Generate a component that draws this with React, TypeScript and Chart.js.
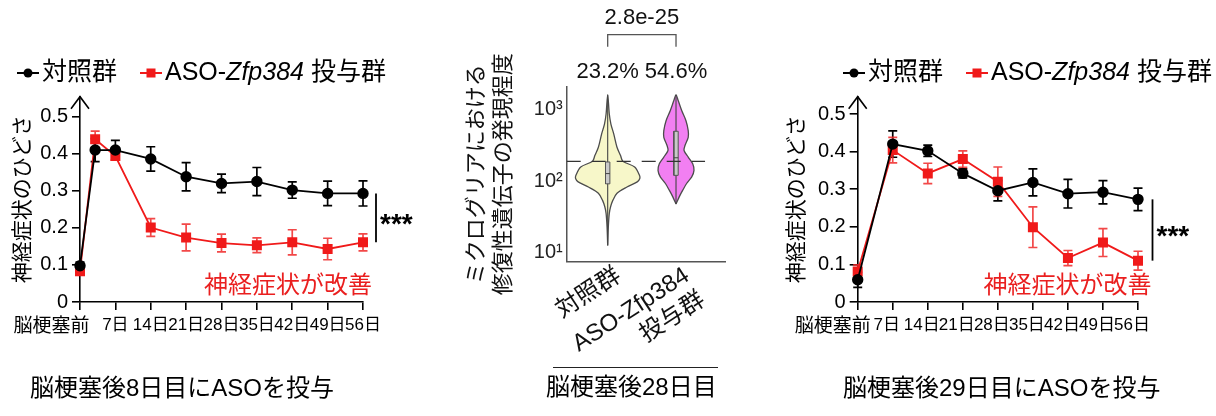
import React, { useEffect, useRef } from 'react';
import { Chart, registerables } from 'chart.js';

Chart.register(...registerables);

const FONT = "'Liberation Sans', Arial, 'Noto Sans CJK JP', sans-serif";
Chart.defaults.font.family = FONT;

// ---------- shared labels ----------
const seriesNames = ['対照群', 'ASO-Zfp384 投与群'];
const italicWord = 'Zfp384';
const ctrlColor = '#000000';
const asoColor = '#f01a1a';
const asoErrColor = 'rgba(240,40,40,0.85)';
const improveColor = '#ea1f1f';

const dayTicks = [0, 7, 14, 21, 28, 35, 42, 49, 56];
const preLabel = '脳梗塞前';
const dayUnit = '日';
const yTicksLine = [0, 0.1, 0.2, 0.3, 0.4, 0.5];
const yTitleLine = '神経症状のひどさ';
const improveText = '神経症状が改善';
const starText = '***';
const captionA = '脳梗塞後8日目にASOを投与';
const captionB = '脳梗塞後28日目';
const captionC = '脳梗塞後29日目にASOを投与';

// ---------- panel A (ASO on day 8) ----------
const daysA = [0, 3, 7, 14, 21, 28, 35, 42, 49, 56];
const ctrlMeanA = [0.098, 0.41, 0.41, 0.386, 0.338, 0.32, 0.325, 0.302, 0.293, 0.293];
const ctrlErrA = [0.01, 0.031, 0.026, 0.033, 0.038, 0.025, 0.038, 0.022, 0.033, 0.034];
const asoMeanA = [0.083, 0.439, 0.394, 0.201, 0.174, 0.159, 0.153, 0.161, 0.143, 0.161];
const asoErrA = [0.01, 0.022, 0.011, 0.024, 0.036, 0.024, 0.02, 0.034, 0.029, 0.023];

// ---------- panel C (ASO on day 29) ----------
const daysC = [0, 7, 14, 21, 28, 35, 42, 49, 56];
const ctrlMeanC = [0.059, 0.42, 0.402, 0.342, 0.296, 0.318, 0.288, 0.292, 0.273];
const ctrlErrC = [0.02, 0.035, 0.015, 0.012, 0.027, 0.036, 0.038, 0.031, 0.03];
const asoMeanC = [0.081, 0.404, 0.342, 0.38, 0.32, 0.199, 0.117, 0.158, 0.11];
const asoErrC = [0.018, 0.034, 0.027, 0.022, 0.039, 0.054, 0.02, 0.037, 0.025];

// ---------- panel B (violin) ----------
const violinGroups: (string | string[])[] = ['対照群', ['ASO-Zfp384', '投与群']];
const ctrlLevels = [1615, 871, 631, 457, 299, 229, 191, 158, 121, 109, 98, 83, 68, 54, 44, 35.5, 23, 12.6];
const ctrlDensity = [0, 0.05, 0.1, 0.19, 0.29, 0.4, 0.47, 0.84, 0.99, 1.0, 0.92, 0.6, 0.29, 0.16, 0.09, 0.05, 0.02, 0];
const asoLevels = [1615, 1334, 968, 703, 511, 412, 316, 269, 218, 176, 142, 115, 93, 75, 60.5, 48];
const asoDensity = [0, 0.07, 0.18, 0.31, 0.38, 0.38, 0.28, 0.25, 0.38, 0.52, 0.56, 0.49, 0.33, 0.21, 0.1, 0];
const boxQ1 = [92, 121];
const boxMedian = [128, 213];
const boxQ3 = [186, 500];
const rangeMin = [12.6, 48];
const rangeMax = [1615, 1615];
const thresholdValue = 190;
const percentLabels = ['23.2%', '54.6%'];
const pValueLabel = '2.8e-25';
const violinYTicks = [10, 100, 1000];
const violinYTickLabels = ['10¹', '10²', '10³'];
const violinYTitle = ['ミクログリアにおける', '修復性遺伝子の発現程度'];
const violinFills = ['#f7f7c9', '#f27ff2'];

// ---------- plugins ----------
const errorBarPlugin = {
  id: 'errorBars',
  beforeDatasetsDraw(chart: any) {
    const ctx = chart.ctx;
    const ys = chart.scales.y;
    chart.data.datasets.forEach((ds: any, i: number) => {
      if (!ds.errors) return;
      const meta = chart.getDatasetMeta(i);
      ctx.save();
      ctx.strokeStyle = ds.errorColor || ds.borderColor;
      ctx.lineWidth = 1.7;
      meta.data.forEach((pt: any, j: number) => {
        const v = ds.data[j].y;
        const e = ds.errors[j];
        const yt = ys.getPixelForValue(v + e);
        const yb = ys.getPixelForValue(v - e);
        ctx.beginPath();
        ctx.moveTo(pt.x, yt);
        ctx.lineTo(pt.x, yb);
        ctx.moveTo(pt.x - 4.5, yt);
        ctx.lineTo(pt.x + 4.5, yt);
        ctx.moveTo(pt.x - 4.5, yb);
        ctx.lineTo(pt.x + 4.5, yb);
        ctx.stroke();
      });
      ctx.restore();
    });
  },
};

const richLegendPlugin = {
  id: 'richLegend',
  afterDraw(chart: any, _args: any, opts: any) {
    const ctx = chart.ctx;
    let x = opts.left;
    const y = opts.top;
    const size = opts.fontSize;
    ctx.save();
    ctx.textBaseline = 'middle';
    ctx.textAlign = 'left';
    chart.data.datasets.forEach((ds: any) => {
      if (!ds.label) return;
      ctx.strokeStyle = ds.borderColor;
      ctx.lineWidth = 2;
      ctx.beginPath();
      ctx.moveTo(x, y);
      ctx.lineTo(x + opts.iconWidth, y);
      ctx.stroke();
      ctx.fillStyle = ds.pointBackgroundColor;
      const cx = x + opts.iconWidth / 2;
      if (ds.pointStyle === 'rect') {
        ctx.fillRect(cx - 4.5, y - 4.5, 9, 9);
      } else {
        ctx.beginPath();
        ctx.arc(cx, y, 4.5, 0, Math.PI * 2);
        ctx.fill();
      }
      x += opts.iconWidth + opts.gap;
      ctx.fillStyle = '#000';
      const parts = String(ds.label).split(italicWord);
      parts.forEach((p: string, k: number) => {
        ctx.font = `${size}px ${FONT}`;
        ctx.fillText(p, x, y);
        x += ctx.measureText(p).width;
        if (k < parts.length - 1) {
          ctx.font = `italic ${size}px ${FONT}`;
          ctx.fillText(italicWord, x, y);
          x += ctx.measureText(italicWord).width;
        }
      });
      x += opts.itemGap;
    });
    ctx.restore();
  },
};

const panelDecorPlugin = {
  id: 'panelDecor',
  afterDraw(chart: any, _args: any, opts: any) {
    const { ctx, chartArea } = chart;
    const xs = chart.scales.x;
    const ys = chart.scales.y;
    ctx.save();
    // arrow head on y axis
    ctx.strokeStyle = '#000';
    ctx.lineWidth = 1.6;
    ctx.beginPath();
    ctx.moveTo(chartArea.left - 9, chartArea.top + 12);
    ctx.lineTo(chartArea.left, chartArea.top);
    ctx.lineTo(chartArea.left + 9, chartArea.top + 12);
    ctx.stroke();
    // significance bar between last points
    const d0 = chart.data.datasets[0].data;
    const d1 = chart.data.datasets[1].data;
    const l0 = d0[d0.length - 1];
    const l1 = d1[d1.length - 1];
    const lastX = xs.getPixelForValue(l0.x);
    const bx = lastX + opts.sigOffset;
    const y0 = ys.getPixelForValue(l0.y);
    const y1 = ys.getPixelForValue(l1.y);
    ctx.lineWidth = 1.8;
    ctx.beginPath();
    ctx.moveTo(bx, y0);
    ctx.lineTo(bx, y1);
    ctx.stroke();
    ctx.fillStyle = '#000';
    ctx.font = `bold 28px ${FONT}`;
    ctx.textAlign = 'left';
    ctx.textBaseline = 'alphabetic';
    ctx.fillText(starText, bx + 4, (y0 + y1) / 2 + 15);
    // improvement text
    ctx.fillStyle = improveColor;
    ctx.font = `24px ${FONT}`;
    ctx.textAlign = 'right';
    ctx.textBaseline = 'middle';
    ctx.fillText(improveText, lastX + opts.textOffset, ys.getPixelForValue(opts.textValue));
    ctx.restore();
  },
};

const violinDecorPlugin = {
  id: 'violinDecor',
  afterDraw(chart: any) {
    const { ctx, chartArea } = chart;
    const xs = chart.scales.x;
    const xa = xs.getPixelForValue(0);
    const xb = xs.getPixelForValue(1);
    ctx.save();
    ctx.fillStyle = '#111';
    ctx.font = `22px ${FONT}`;
    ctx.textAlign = 'center';
    ctx.textBaseline = 'middle';
    percentLabels.forEach((t, i) => ctx.fillText(t, xs.getPixelForValue(i), chartArea.top - 15));
    const by = chartArea.top - 52;
    ctx.strokeStyle = '#555';
    ctx.lineWidth = 1.3;
    ctx.beginPath();
    ctx.moveTo(xa, by + 12);
    ctx.lineTo(xa, by);
    ctx.lineTo(xb, by);
    ctx.lineTo(xb, by + 12);
    ctx.stroke();
    ctx.fillText(pValueLabel, (xa + xb) / 2, by - 17);
    ctx.restore();
  },
};

// ---------- configs ----------
type LineOpts = {
  yWidth: number;
  right: number;
  yMax: number;
  titlePad: number;
  legendLeft: number;
  labelOffset: number;
  prePad: string;
  sigOffset: number;
  textOffset: number;
  textValue: number;
};

function makeLineConfig(days: number[], cm: number[], ce: number[], am: number[], ae: number[], o: LineOpts): any {
  return {
    type: 'line',
    data: {
      datasets: [
        {
          label: seriesNames[0],
          data: days.map((d, i) => ({ x: d, y: cm[i] })),
          errors: ce,
          borderColor: ctrlColor,
          backgroundColor: ctrlColor,
          pointBackgroundColor: ctrlColor,
          pointBorderColor: ctrlColor,
          pointStyle: 'circle',
          pointRadius: 4.8,
          borderWidth: 1.8,
          tension: 0,
          clip: false,
        },
        {
          label: seriesNames[1],
          data: days.map((d, i) => ({ x: d, y: am[i] })),
          errors: ae,
          errorColor: asoErrColor,
          borderColor: asoColor,
          backgroundColor: asoColor,
          pointBackgroundColor: asoColor,
          pointBorderColor: asoColor,
          pointStyle: 'rect',
          pointRadius: 5.8,
          borderWidth: 1.8,
          tension: 0,
          clip: false,
        },
      ],
    },
    options: {
      animation: false,
      responsive: false,
      layout: { padding: { top: 96.7, right: o.right, left: 0, bottom: 0 } },
      plugins: {
        legend: { display: false },
        tooltip: { enabled: false },
        richLegend: { left: o.legendLeft, top: 73, iconWidth: 22, gap: 3, itemGap: 23, fontSize: 25 },
        panelDecor: { sigOffset: o.sigOffset, textOffset: o.textOffset, textValue: o.textValue },
      },
      scales: {
        x: {
          type: 'linear',
          min: 0,
          max: 56,
          afterBuildTicks: (s: any) => {
            s.ticks = dayTicks.map((v) => ({ value: v }));
          },
          afterFit: (s: any) => {
            s.height = 114;
          },
          ticks: {
            autoSkip: false,
            maxRotation: 0,
            minRotation: 0,
            padding: 5,
            labelOffset: o.labelOffset,
            color: '#000',
            font: (c: any) => ({ size: c.index === 0 ? 19 : 17, family: FONT }),
            callback: (v: number) => (v === 0 ? preLabel + o.prePad : `${v}${dayUnit}`),
          },
          grid: { drawOnChartArea: false, drawTicks: true, tickLength: 8, color: '#000', lineWidth: 1.6 },
          border: { display: true, color: '#000', width: 1.6 },
        },
        y: {
          type: 'linear',
          min: 0,
          max: o.yMax,
          afterBuildTicks: (s: any) => {
            s.ticks = yTicksLine.map((v) => ({ value: v }));
          },
          afterFit: (s: any) => {
            s.width = o.yWidth;
          },
          ticks: {
            padding: 4,
            color: '#000',
            font: { size: 20, family: FONT },
            callback: (v: number) => String(v),
          },
          grid: { drawOnChartArea: false, drawTicks: true, tickLength: 8, color: '#000', lineWidth: 1.6 },
          border: { display: true, color: '#000', width: 1.6 },
          title: {
            display: true,
            text: yTitleLine,
            color: '#000',
            font: { size: 21, family: FONT, lineHeight: 1.2 },
            padding: { top: o.titlePad, bottom: 0 },
          },
        },
      },
    },
    plugins: [errorBarPlugin, richLegendPlugin, panelDecorPlugin],
  };
}

const VIOLIN_W = 0.47;
const BOX_HALF = 0.032;

function violinOutline(c: number, levels: number[], dens: number[]) {
  const pts: { x: number; y: number }[] = [];
  for (let i = levels.length - 1; i >= 0; i--) pts.push({ x: c + dens[i] * VIOLIN_W, y: levels[i] });
  for (let i = 1; i < levels.length; i++) pts.push({ x: c - dens[i] * VIOLIN_W, y: levels[i] });
  return pts;
}

function makeViolinConfig(): any {
  const groups = [
    { levels: ctrlLevels, dens: ctrlDensity },
    { levels: asoLevels, dens: asoDensity },
  ];
  const datasets: any[] = [];
  datasets.push({
    data: [
      { x: -0.6, y: thresholdValue },
      { x: 1.425, y: thresholdValue },
    ],
    borderColor: '#333',
    borderWidth: 1.3,
    borderDash: [14, 11],
    pointRadius: 0,
    fill: false,
    order: 0,
  });
  groups.forEach((g, i) => {
    datasets.push({
      data: [
        { x: i - BOX_HALF, y: boxMedian[i] },
        { x: i + BOX_HALF, y: boxMedian[i] },
      ],
      borderColor: '#444',
      borderWidth: 1,
      pointRadius: 0,
      fill: false,
      order: 1,
    });
    datasets.push({
      data: [
        { x: i - BOX_HALF, y: boxQ1[i] },
        { x: i + BOX_HALF, y: boxQ1[i] },
        { x: i + BOX_HALF, y: boxQ3[i] },
        { x: i - BOX_HALF, y: boxQ3[i] },
        { x: i - BOX_HALF, y: boxQ1[i] },
      ],
      borderColor: '#555',
      backgroundColor: '#c9c9c9',
      borderWidth: 1,
      pointRadius: 0,
      fill: 'shape',
      order: 2,
    });
    datasets.push({
      data: [
        { x: i, y: rangeMin[i] },
        { x: i, y: rangeMax[i] },
      ],
      borderColor: '#444',
      borderWidth: 1.1,
      pointRadius: 0,
      fill: false,
      order: 3,
    });
    datasets.push({
      data: violinOutline(i, g.levels, g.dens),
      borderColor: '#4d4d4d',
      backgroundColor: violinFills[i],
      borderWidth: 1.3,
      pointRadius: 0,
      tension: 0.3,
      fill: 'shape',
      order: 4,
    });
  });
  return {
    type: 'line',
    data: { datasets },
    options: {
      animation: false,
      responsive: false,
      layout: { padding: { top: 86.7, right: 35, left: 0, bottom: 0 } },
      plugins: { legend: { display: false }, tooltip: { enabled: false } },
      scales: {
        x: {
          type: 'linear',
          min: -0.6,
          max: 1.717,
          afterBuildTicks: (s: any) => {
            s.ticks = violinGroups.map((_, i) => ({ value: i }));
          },
          afterFit: (s: any) => {
            s.height = 154.3;
          },
          ticks: {
            autoSkip: false,
            minRotation: 33,
            maxRotation: 33,
            padding: 0,
            labelOffset: 11,
            color: '#111',
            font: { size: 24, family: FONT },
            callback: (v: number) => violinGroups[v],
          },
          grid: { drawOnChartArea: false, drawTicks: false, color: '#555' },
          border: { display: true, color: '#555', width: 1.5 },
        },
        y: {
          type: 'logarithmic',
          min: 7.5,
          max: 2100,
          afterBuildTicks: (s: any) => {
            s.ticks = violinYTicks.map((v) => ({ value: v }));
          },
          afterFit: (s: any) => {
            s.width = 126.7;
          },
          ticks: {
            padding: 4,
            color: '#222',
            font: { size: 20, family: FONT },
            callback: (v: number) => violinYTickLabels[violinYTicks.indexOf(v)],
          },
          grid: { drawOnChartArea: false, drawTicks: false, color: '#555' },
          border: { display: true, color: '#555', width: 1.5 },
          title: {
            display: true,
            text: violinYTitle,
            color: '#111',
            font: { size: 22, family: FONT, lineHeight: 1.23 },
            padding: { top: 23.5, bottom: 0 },
          },
        },
      },
    },
    plugins: [violinDecorPlugin],
  };
}

function ChartBox({ make, left, width }: { make: () => any; left: number; width: number }) {
  const ref = useRef<HTMLCanvasElement>(null);
  useEffect(() => {
    const chart = new Chart(ref.current as HTMLCanvasElement, make());
    return () => chart.destroy();
  }, []);
  return (
    <div style={{ position: 'absolute', left, top: 0, width, height: 416 }}>
      <canvas ref={ref} width={width} height={416} style={{ display: 'block' }} />
    </div>
  );
}

const captionStyle: React.CSSProperties = {
  position: 'absolute',
  fontSize: 24,
  lineHeight: '24px',
  whiteSpace: 'nowrap',
  color: '#000',
  fontFamily: FONT,
};

export default function App() {
  return (
    <div style={{ position: 'fixed', left: 0, top: 0, width: 1216, height: 416, background: '#fff', overflow: 'hidden' }}>
      <ChartBox
        left={0}
        width={420}
        make={() =>
          makeLineConfig(daysA, ctrlMeanA, ctrlErrA, asoMeanA, asoErrA, {
            yWidth: 80,
            right: 57,
            yMax: 0.554,
            titlePad: 10.5,
            legendLeft: 17,
            labelOffset: 0,
            prePad: '　　　',
            sigOffset: 13,
            textOffset: 9,
            textValue: 0.041,
          })
        }
      />
      <ChartBox left={440} width={320} make={makeViolinConfig} />
      <ChartBox
        left={780}
        width={436}
        make={() =>
          makeLineConfig(daysC, ctrlMeanC, ctrlErrC, asoMeanC, asoErrC, {
            yWidth: 77.7,
            right: 78,
            yMax: 0.546,
            titlePad: 5,
            legendLeft: 63,
            labelOffset: -6,
            prePad: '　　',
            sigOffset: 14.5,
            textOffset: 13.5,
            textValue: 0.041,
          })
        }
      />
      <div style={{ ...captionStyle, left: 30, top: 376 }}>{captionA}</div>
      <div
        style={{
          position: 'absolute',
          left: 553,
          top: 367,
          width: 165,
          height: 0,
          borderTop: '1.3px solid #222',
        }}
      />
      <div style={{ ...captionStyle, left: 546, top: 375 }}>{captionB}</div>
      <div style={{ ...captionStyle, left: 843, top: 376 }}>{captionC}</div>
    </div>
  );
}
